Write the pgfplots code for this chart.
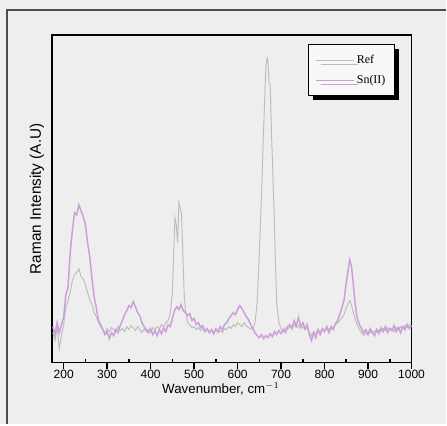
\documentclass[border=0pt]{standalone}
\usepackage{pgfplots}
\pgfplotsset{compat=1.18}
\usepackage{fontspec}
\setmainfont{Liberation Sans}
\newfontfamily\legfont{Liberation Serif}
\usetikzlibrary{shadows}
\definecolor{bgscan}{RGB}{238,238,238}
\definecolor{refgray}{RGB}{188,188,188}
\definecolor{snpurple}{RGB}{204,158,218}

\pgfplotstableread{
w v
175 30
180 22
185 35
190 14
195 28
200 38
205 55
210 62
215 70
220 82
225 88
230 90
235 94
240 86
245 84
250 78
255 70
260 63
265 58
270 50
275 46
280 40
285 36
290 33
295 30
300 34
305 31
310 35
315 33
320 30
325 36
330 32
335 34
340 31
345 36
350 33
355 37
360 35
365 32
370 36
375 33
380 30
385 34
390 31
395 33
400 30
405 35
410 33
415 36
420 34
425 38
430 36
435 40
440 42
445 48
450 70
453 110
456 145
459 138
462 120
465 160
468 155
471 148
474 110
477 70
480 52
485 40
490 38
495 35
500 36
505 33
510 35
515 32
520 34
525 31
530 33
535 30
540 32
545 29
550 33
555 30
560 32
565 30
570 34
575 33
580 36
585 34
590 38
595 36
600 40
605 38
610 36
615 40
620 37
625 35
630 34
635 33
640 40
645 60
650 110
653 145
656 180
659 223
662 260
665 296
668 305
670 300
672 282
675 278
678 230
681 190
684 150
687 100
690 60
695 40
700 34
705 31
710 35
715 33
720 36
725 34
730 38
735 35
740 37
745 34
750 36
755 33
760 35
765 30
770 27
775 31
780 29
785 33
790 31
795 34
800 32
805 35
810 33
815 37
820 35
825 38
830 40
835 42
840 45
845 48
850 55
855 60
858 62
862 58
865 52
870 44
875 38
880 33
885 30
890 27
895 30
900 28
905 31
910 29
915 32
920 30
925 33
930 31
935 34
940 32
945 35
950 33
955 34
960 31
965 35
970 33
975 36
980 34
985 37
990 35
995 38
1000 36
}\refdata

\pgfplotstableread{
w v
175 36
180 28
185 40
190 30
195 38
200 45
205 68
210 75
215 110
220 132
225 150
230 148
235 158
240 152
245 146
250 138
255 120
260 106
265 85
270 66
275 55
280 42
285 38
290 33
295 28
300 31
305 24
310 30
315 27
320 33
325 30
330 37
335 42
340 48
345 52
350 57
355 55
360 61
365 56
370 50
375 47
380 40
385 36
390 33
395 30
400 34
405 28
410 32
415 27
420 33
425 29
430 35
435 31
440 38
445 36
450 44
455 52
460 56
465 53
470 58
475 52
480 50
485 47
490 49
495 42
500 44
505 38
510 40
515 35
520 37
525 31
530 34
535 30
540 33
545 29
550 34
555 31
560 36
565 33
570 38
575 40
580 44
585 47
590 50
595 48
600 53
605 57
610 54
615 50
620 46
625 43
630 38
635 34
640 30
645 27
650 25
655 28
660 24
665 27
670 25
675 29
680 26
685 31
690 28
695 32
700 29
705 33
710 30
715 36
720 38
725 34
730 42
735 37
740 45
745 36
750 40
755 34
760 38
765 28
770 22
775 30
780 25
785 33
790 28
795 34
800 31
805 36
810 30
815 35
820 33
825 39
830 42
835 48
840 55
845 63
850 80
855 95
858 103
862 96
865 84
870 60
875 45
880 38
885 34
890 30
895 33
900 28
905 34
910 30
915 27
920 33
925 29
930 35
935 31
940 36
945 30
950 34
955 32
960 37
965 31
970 35
975 30
980 36
985 33
990 38
995 34
1000 37
}\sndata

\begin{document}
\begin{tikzpicture}
% scanned page background and frame
\fill[bgscan] (0,0) rectangle (335.25pt,318.75pt);
\draw[black!70, line width=0.8pt] (5.25pt,0) -- (5.25pt,311.25pt) -- (335.25pt,311.25pt);
\begin{axis}[
    at={(39pt,46.5pt)}, anchor=south west,
    scale only axis,
    width=270pt, height=246pt,
    xmin=173, xmax=1000,
    ymin=0, ymax=328,
    axis line style={line width=1.4pt},
    xtick={200,300,...,1000},
    minor x tick num=1,
    xtick pos=bottom,
    ytick=\empty,
    tick align=outside,
    major tick length=4.5pt,
    minor tick length=-2.5pt,
    tick style={black, line width=1.2pt},
    /pgf/number format/assume math mode=true,
    /pgf/number format/1000 sep={},
    tick label style={font=\fontsize{9}{10}\selectfont},
    xticklabel style={yshift=2.5pt},
    xlabel={Wavenumber, cm$^{-1}$},
    ylabel={Raman Intensity (A.U)},
    xlabel style={at={(axis description cs:0.47,-0.08)}, anchor=center, font=\fontsize{10}{11}\selectfont},
    ylabel style={at={(axis description cs:-0.042,0.5)}, anchor=center, font=\fontsize{11.5}{13}\selectfont},
    legend style={at={(axis description cs:0.955,0.973)}, anchor=north east,
        draw=black, line width=0.8pt, fill=white!60!bgscan,
        drop shadow={shadow xshift=3.5pt, shadow yshift=-3.5pt, fill=black, opacity=1},
        font=\legfont\fontsize{9}{10}\selectfont,
        inner xsep=5pt, inner ysep=6pt, row sep=3pt},
    legend cell align=left,
    legend image code/.code={\draw[#1, line width=0.6pt] (0cm,0cm) -- (1.0cm,0cm);},
]
\addplot[refgray, line width=0.7pt] table[x=w, y=v] {\refdata};
\addplot[snpurple, line width=1.1pt] table[x=w, y=v] {\sndata};
\legend{Ref, Sn(II)}
\end{axis}
\end{tikzpicture}
\end{document}
